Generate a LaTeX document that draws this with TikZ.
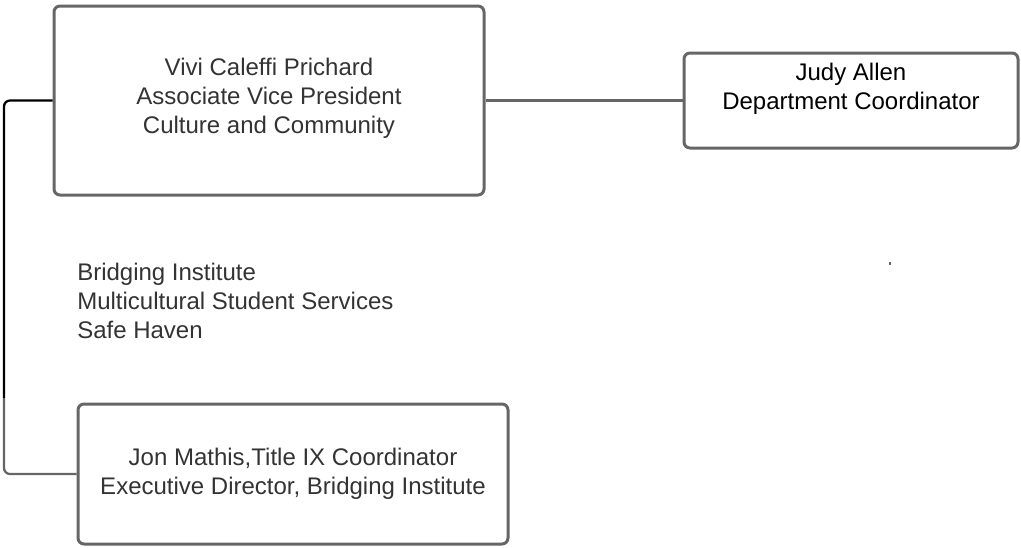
\documentclass[tikz,border=0pt]{standalone}
\usepackage{fontspec}
\setmainfont{Liberation Sans}
\definecolor{boxgray}{HTML}{666666}
\definecolor{txtgray}{HTML}{333333}
\begin{document}
\begin{tikzpicture}
          [x=0.75pt,y=-0.75pt,
          box/.style={draw=boxgray, line width=2.25pt, rounded corners=4.5pt, inner sep=0pt},
          txt/.style={inner sep=0pt, align=center, text=txtgray, font=\fontsize{18}{21.75}\selectfont},
          link/.style={line width=1.7pt, rounded corners=4.5pt}]
        \useasboundingbox (0,0) rectangle (1021,547);

        \node[box, minimum width=322.5pt, minimum height=141.75pt] (vivi) at (269,100.5) {};
        \node[box, minimum width=250.5pt, minimum height=71.25pt] (judy) at (851,100.5) {};
        \node[box, minimum width=322.5pt, minimum height=105pt] (jon) at (293,474) {};

        \node[txt] (vivitxt) at (269,98) {Vivi Caleffi Prichard\\Associate Vice President\\Culture and Community};
        \node[txt, text=black] (judytxt) at (851,88.5) {Judy Allen\\Department Coordinator};
        \node[txt, align=left, anchor=west] (units) at (77,300.5) {Bridging Institute\\Multicultural Student Services\\Safe Haven};
        \node[txt] (jontxt) at (293,473.5) {Jon Mathis,Title IX Coordinator\\Executive Director, Bridging Institute};

        \coordinate (bend) at (4,398);
        \draw[link, black] (vivi.west) -| (bend);
        \draw[link, boxgray] (bend) |- (jon.west);
        \draw[link, boxgray] (vivi.east) -- (judy.west);

        \fill[boxgray] (889,262) rectangle (891,265);
      \end{tikzpicture}
\end{document}
